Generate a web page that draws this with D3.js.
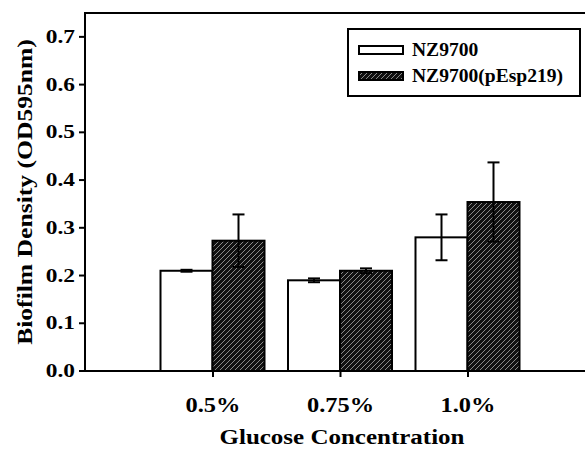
<!DOCTYPE html>
<html lang="en">
<head>
    <meta charset="UTF-8">
    <title>Biofilm Density</title>
    <script src="https://cdn.jsdelivr.net/npm/d3@7"></script>
    <style>
        body { margin: 0; background: #fff; }
        svg { display: block; }
        text { font-family: "Liberation Serif", "Times New Roman", serif; font-weight: bold; fill: #000; }
    </style>
</head>
<body>
<svg width="585" height="450"></svg>
<script>
    var groups = ["0.5%", "0.75%", "1.0%"];
    var series = ["NZ9700", "NZ9700(pEsp219)"];
    var means = [
        [0.21, 0.19, 0.28],
        [0.273, 0.21, 0.354]
    ];
    var errors = [
        [0.002, 0.004, 0.048],
        [0.055, 0.005, 0.083]
    ];
    var yTicks = [0, 0.1, 0.2, 0.3, 0.4, 0.5, 0.6, 0.7];

    var svg = d3.select("svg");
    var plotLeft = 85, plotTop = 13, plotBottom = 371, plotRight = 600;

    var y = d3.scaleLinear().domain([0, 0.75]).range([plotBottom, plotTop]);
    var x = d3.scalePoint().domain(groups).range([212.5, 467.5]);
    var xs = d3.scaleBand().domain(series).range([-52, 52]);

    // the lettering in the original is a little wider than Times
    function stretch(sel, k) {
        sel.each(function () {
            var t = d3.select(this);
            var tx = +t.attr("x") || 0, ty = +t.attr("y") || 0;
            t.attr("x", 0).attr("y", 0)
                .attr("transform", "translate(" + tx + "," + ty + ") scale(" + k + ",1)");
        });
    }

    // hatch pattern for the second series
    var pat = svg.append("defs").append("pattern")
        .attr("id", "hatch")
        .attr("patternUnits", "userSpaceOnUse")
        .attr("width", 5)
        .attr("height", 5);
    pat.append("rect").attr("width", 5).attr("height", 5).attr("fill", "#111");
    pat.append("path")
        .attr("d", "M-1,6 L6,-1 M-1,1 L1,-1 M4,6 L6,4")
        .attr("stroke", "#8a8a8a")
        .attr("stroke-width", 1);

    var data = [];
    series.forEach(function (s, si) {
        groups.forEach(function (g, gi) {
            data.push({s: s, si: si, g: g, v: means[si][gi], e: errors[si][gi]});
        });
    });

    svg.selectAll("rect.bar")
        .data(data)
        .enter()
        .append("rect")
        .attr("class", "bar")
        .attr("x", function (d) { return x(d.g) + xs(d.s); })
        .attr("y", function (d) { return y(d.v); })
        .attr("width", xs.bandwidth())
        .attr("height", function (d) { return y(0) - y(d.v); })
        .attr("fill", function (d) { return d.si === 0 ? "#fff" : "url(#hatch)"; })
        .attr("stroke", "#000")
        .attr("stroke-width", 2);

    // error bars
    function cx(d) { return x(d.g) + xs(d.s) + xs.bandwidth() / 2; }
    var eb = svg.selectAll("g.err")
        .data(data)
        .enter()
        .append("g")
        .attr("class", "err")
        .attr("stroke", "#000")
        .attr("stroke-width", 2);
    eb.append("line")
        .attr("x1", cx)
        .attr("x2", cx)
        .attr("y1", function (d) { return y(d.v - d.e); })
        .attr("y2", function (d) { return y(d.v + d.e); });
    [1, -1].forEach(function (sign) {
        eb.append("line")
            .attr("x1", function (d) { return cx(d) - 6; })
            .attr("x2", function (d) { return cx(d) + 6; })
            .attr("y1", function (d) { return y(d.v + sign * d.e); })
            .attr("y2", function (d) { return y(d.v + sign * d.e); });
    });

    // frame
    svg.append("path")
        .attr("d", "M" + plotRight + "," + plotTop + " L" + plotLeft + "," + plotTop +
            " L" + plotLeft + "," + plotBottom + " L" + plotRight + "," + plotBottom)
        .attr("fill", "none")
        .attr("stroke", "#000")
        .attr("stroke-width", 2);

    // y axis
    var yAxis = svg.append("g")
        .attr("transform", "translate(" + plotLeft + ",0)")
        .call(d3.axisLeft(y).tickValues(yTicks).tickFormat(d3.format(".1f")).tickSize(6).tickPadding(4));
    yAxis.select(".domain").remove();
    yAxis.selectAll("line").attr("stroke-width", 2);
    yAxis.selectAll("text")
        .attr("font-family", null)
        .attr("dy", null)
        .style("font-size", "18px")
        .attr("y", function (d) { return y(d) + 6; })
        .attr("x", -10);
    yAxis.selectAll(".tick").attr("transform", null);
    yAxis.selectAll(".tick line")
        .attr("y1", function (d) { return y(d); })
        .attr("y2", function (d) { return y(d); });
    stretch(yAxis.selectAll("text"), 1.3);

    // x axis
    var xAxis = svg.append("g")
        .attr("transform", "translate(0," + plotBottom + ")")
        .call(d3.axisBottom(x).tickSize(6).tickPadding(20));
    xAxis.select(".domain").remove();
    xAxis.selectAll("line").attr("stroke-width", 2);
    xAxis.selectAll("text")
        .attr("font-family", null)
        .attr("dy", null)
        .attr("y", 41)
        .style("font-size", "20px");
    stretch(xAxis.selectAll("text"), 1.22);

    var xTitle = svg.append("text")
        .attr("x", 342)
        .attr("y", 444)
        .attr("text-anchor", "middle")
        .style("font-size", "20px")
        .text("Glucose Concentration");
    stretch(xTitle, 1.25);

    svg.append("text")
        .attr("transform", "translate(32,192) rotate(-90) scale(1.28,1)")
        .attr("text-anchor", "middle")
        .style("font-size", "20px")
        .text("Biofilm Density (OD595nm)");

    // legend
    var lg = svg.append("g");
    lg.append("rect")
        .attr("x", 348).attr("y", 29)
        .attr("width", 232).attr("height", 67)
        .attr("fill", "#fff")
        .attr("stroke", "#000")
        .attr("stroke-width", 2);
    series.forEach(function (s, i) {
        var ly = 50 + i * 26;
        lg.append("rect")
            .attr("x", 359).attr("y", ly - 4)
            .attr("width", 44).attr("height", 8)
            .attr("fill", i === 0 ? "#fff" : "url(#hatch)")
            .attr("stroke", "#000")
            .attr("stroke-width", 2);
        var t = lg.append("text")
            .attr("x", 412)
            .attr("y", ly + 6)
            .style("font-size", "19px")
            .text(s);
        stretch(t, 1.03);
    });
</script>
</body>
</html>
